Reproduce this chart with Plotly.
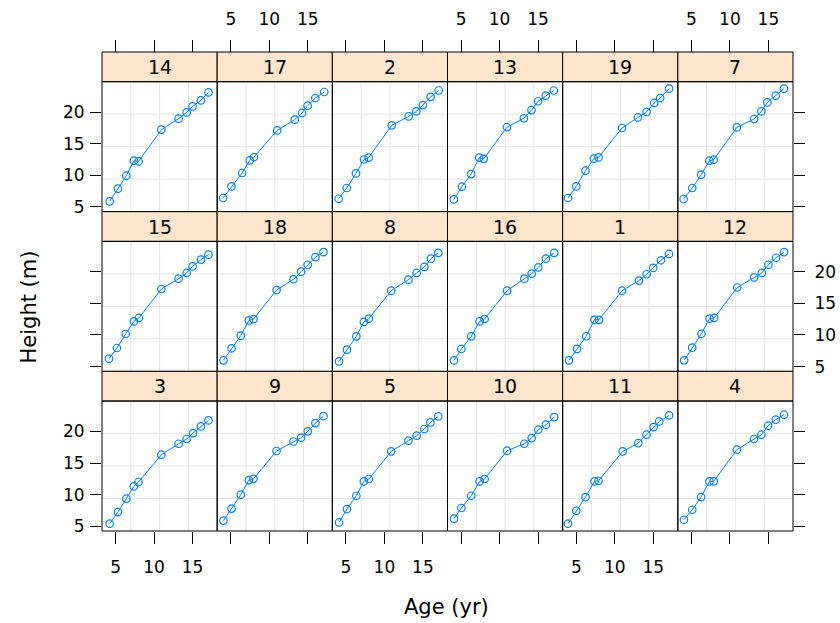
import plotly.graph_objects as go

# Tree labels in panel order (left-to-right, top-to-bottom)
trees = ["14", "17", "2", "13", "19", "7",
         "15", "18", "8", "16", "1", "12",
         "3", "9", "5", "10", "11", "4"]

common_age = [4.05, 5.1, 6.3, 7.35, 7.95, 10.95, 13.15, 14.15, 15.0, 16.0, 17.05]

ages = {
    "14": [4.23, 5.30, 6.39, 7.37, 7.98, 10.95, 13.19, 14.23, 15.0, 16.09, 17.07],
    "17": [4.0, 5.09, 6.47, 7.46, 8.02, 11.03, 13.31, 14.27, 14.99, 15.99, 17.15],
    "2": common_age,
    "13": common_age,
    "19": [3.92, 5.0, 6.2, 7.28, 7.89, 10.95, 13.02, 14.13, 15.13, 15.9, 17.07],
    "7": [3.98, 5.1, 6.26, 7.33, 7.89, 10.9, 13.14, 14.09, 14.86, 15.95, 17.03],
    "15": [4.14, 5.17, 6.30, 7.37, 8.02, 10.95, 13.19, 14.23, 15.0, 16.09, 17.07],
    "18": common_age,
    "8": [4.1, 5.13, 6.35, 7.33, 7.98, 10.88, 13.12, 14.19, 15.19, 16.05, 17.0],
    "16": [4.07, 5.03, 6.32, 7.4, 8.05, 10.98, 13.22, 14.17, 15.03, 16.02, 17.1],
    "1": common_age,
    "12": common_age,
    "3": [4.23, 5.30, 6.39, 7.37, 7.98, 10.95, 13.19, 14.23, 15.07, 16.09, 17.07],
    "9": common_age,
    "5": [4.1, 5.13, 6.35, 7.33, 7.98, 10.88, 13.12, 14.19, 15.19, 15.97, 17.0],
    "10": [4.07, 5.03, 6.32, 7.4, 8.05, 10.98, 13.22, 14.17, 15.03, 16.02, 17.1],
    "11": [3.92, 5.0, 6.2, 7.37, 7.89, 11.03, 13.06, 14.13, 15.04, 15.78, 17.07],
    "4": [4.02, 5.1, 6.26, 7.33, 7.89, 10.9, 13.14, 14.09, 14.96, 15.95, 17.03],
}

heights = {
    "14": [5.88, 7.89, 9.94, 12.31, 12.2, 17.21, 18.95, 19.94, 20.89, 21.84, 23.1],
    "17": [6.42, 8.25, 10.37, 12.36, 12.89, 17.1, 18.79, 19.85, 21.0, 22.21, 23.16],
    "2": [6.3, 8.0, 10.3, 12.5, 12.8, 17.9, 19.3, 20.1, 21.1, 22.4, 23.4],
    "13": [6.2, 8.2, 10.2, 12.8, 12.6, 17.6, 19.0, 20.3, 21.7, 22.6, 23.4],
    "19": [6.42, 8.25, 10.73, 12.63, 12.83, 17.48, 19.15, 20.0, 21.43, 22.21, 23.69],
    "7": [6.26, 8.0, 10.1, 12.31, 12.47, 17.57, 18.9, 20.1, 21.52, 22.58, 23.69],
    "15": [6.26, 7.95, 10.16, 12.15, 12.69, 17.27, 18.9, 19.8, 20.84, 21.9, 22.69],
    "18": [6.0, 7.9, 9.9, 12.3, 12.5, 17.1, 18.8, 20.0, 21.1, 22.3, 23.1],
    "8": [5.83, 7.68, 9.79, 12.06, 12.58, 17.0, 18.74, 19.8, 20.75, 22.06, 22.96],
    "16": [5.99, 7.79, 9.79, 12.15, 12.53, 17.0, 18.9, 19.69, 20.68, 22.06, 22.96],
    "1": [6.0, 7.8, 9.8, 12.4, 12.4, 17.0, 18.6, 19.6, 20.6, 21.8, 22.8],
    "12": [6.0, 8.0, 10.2, 12.6, 12.7, 17.5, 19.1, 19.8, 21.1, 22.2, 23.1],
    "3": [5.41, 7.25, 9.36, 11.3, 12.0, 16.31, 18.04, 18.79, 19.73, 20.78, 21.73],
    "9": [5.9, 7.8, 10.0, 12.3, 12.5, 16.9, 18.4, 19.0, 20.0, 21.3, 22.4],
    "5": [5.61, 7.73, 9.83, 12.09, 12.47, 16.83, 18.52, 19.31, 20.37, 21.41, 22.36],
    "10": [6.2, 7.89, 9.83, 12.09, 12.47, 16.94, 18.04, 18.94, 20.26, 21.05, 22.26],
    "11": [5.41, 7.46, 9.62, 12.09, 12.2, 16.83, 18.15, 19.47, 20.68, 21.57, 22.52],
    "4": [6.04, 7.62, 9.62, 12.09, 12.09, 17.1, 18.79, 19.47, 20.89, 21.84, 22.63],
}

x_ticks = [5, 10, 15]
y_ticks = [5, 10, 15, 20]

W, H = 840, 623
ML, MR, MT, MB = 102, 47, 52, 92
plot_h = H - MT - MB
strip_f = 29.7 / plot_h

XR = [3.23, 18.2]
YR = [4.26, 24.79]
NCOL, NROW = 6, 3

FONT = "DejaVu Sans, Liberation Sans, Arial"
BLUE = "#0080ff"
GRID = "#e6e6e6"
STRIP = "#ffe5cc"

fig = go.Figure()
shapes, annotations = [], []
layout_axes = {}

for k, tree in enumerate(trees):
    r, c = divmod(k, NCOL)
    i = k + 1
    xname = "x" if i == 1 else f"x{i}"
    yname = "y" if i == 1 else f"y{i}"
    xkey = "xaxis" if i == 1 else f"xaxis{i}"
    ykey = "yaxis" if i == 1 else f"yaxis{i}"

    x0, x1 = c / NCOL, (c + 1) / NCOL
    row_top = 1 - r / NROW
    y0 = 1 - (r + 1) / NROW
    y1 = row_top - strip_f

    fig.add_trace(go.Scatter(
        x=ages[tree], y=heights[tree], mode="lines+markers",
        xaxis=xname, yaxis=yname, showlegend=False, hoverinfo="skip",
        line=dict(color=BLUE, width=1),
        marker=dict(symbol="circle-open", size=7.5, color=BLUE,
                    line=dict(width=1.2, color=BLUE)),
    ))

    tickfont = dict(family=FONT, size=17, color="black")
    xa = dict(domain=[x0, x1], range=XR, anchor=yname, showgrid=False,
              zeroline=False, showline=False, tickmode="array",
              tickvals=x_ticks, ticks="", showticklabels=False,
              automargin=False,
              ticklen=12, tickcolor="black", tickwidth=1, tickfont=tickfont)
    if r == NROW - 1:
        xa.update(ticks="outside", side="bottom", showticklabels=(c % 2 == 0),
                  ticklabelstandoff=9)
    elif r == 0:
        xa.update(ticks="outside", side="top", anchor="free", position=1.0,
                  showticklabels=(c % 2 == 1), ticklabelstandoff=8)
    ya = dict(domain=[y0, y1], range=YR, anchor=xname, showgrid=False,
              zeroline=False, showline=False, tickmode="array",
              tickvals=y_ticks, ticks="", showticklabels=False,
              automargin=False,
              ticklen=11, tickcolor="black", tickwidth=1, tickfont=tickfont)
    if c == 0:
        ya.update(ticks="outside", side="left", showticklabels=(r != 1),
                  ticklabelstandoff=2)
    elif c == NCOL - 1:
        ya.update(ticks="outside", side="right", showticklabels=(r == 1),
                  ticklabelstandoff=6)
    layout_axes[xkey] = xa
    layout_axes[ykey] = ya

    # panel grid: three equally spaced lines each way
    for q in (0.25, 0.5, 0.75):
        gx = x0 + (x1 - x0) * q
        gy = y0 + (y1 - y0) * q
        shapes.append(dict(type="line", xref="paper", yref="paper",
                           x0=gx, x1=gx, y0=y0, y1=y1, layer="below",
                           line=dict(color=GRID, width=1)))
        shapes.append(dict(type="line", xref="paper", yref="paper",
                           x0=x0, x1=x1, y0=gy, y1=gy, layer="below",
                           line=dict(color=GRID, width=1)))
    # strip and panel frames
    shapes.append(dict(type="rect", xref="paper", yref="paper",
                       x0=x0, x1=x1, y0=y1, y1=row_top, layer="above",
                       fillcolor=STRIP, line=dict(color="black", width=1)))
    shapes.append(dict(type="rect", xref="paper", yref="paper",
                       x0=x0, x1=x1, y0=y0, y1=y1, layer="above",
                       line=dict(color="black", width=1)))
    annotations.append(dict(text=tree, xref="paper", yref="paper",
                            x=(x0 + x1) / 2, y=(y1 + row_top) / 2,
                            xanchor="center", yanchor="middle", showarrow=False,
                            font=dict(family=FONT, size=19, color="black")))

annotations.append(dict(text="Age (yr)", xref="paper", yref="paper",
                        x=(446.5 - ML) / (W - ML - MR), y=(H - MB - 607) / plot_h,
                        xanchor="center", yanchor="middle", showarrow=False,
                        font=dict(family=FONT, size=21, color="black")))
annotations.append(dict(text="Height (m)", xref="paper", yref="paper",
                        x=(28 - ML) / (W - ML - MR), y=(H - MB - 307.5) / plot_h,
                        xanchor="center", yanchor="middle", showarrow=False,
                        textangle=-90,
                        font=dict(family=FONT, size=21, color="black")))

fig.update_layout(
    width=W, height=H,
    margin=dict(l=ML, r=MR, t=MT, b=MB, pad=0, autoexpand=False),
    paper_bgcolor="white", plot_bgcolor="rgba(0,0,0,0)",
    shapes=shapes, annotations=annotations,
    font=dict(family=FONT, color="black"),
    **layout_axes,
)

fig.write_html("out.html")
